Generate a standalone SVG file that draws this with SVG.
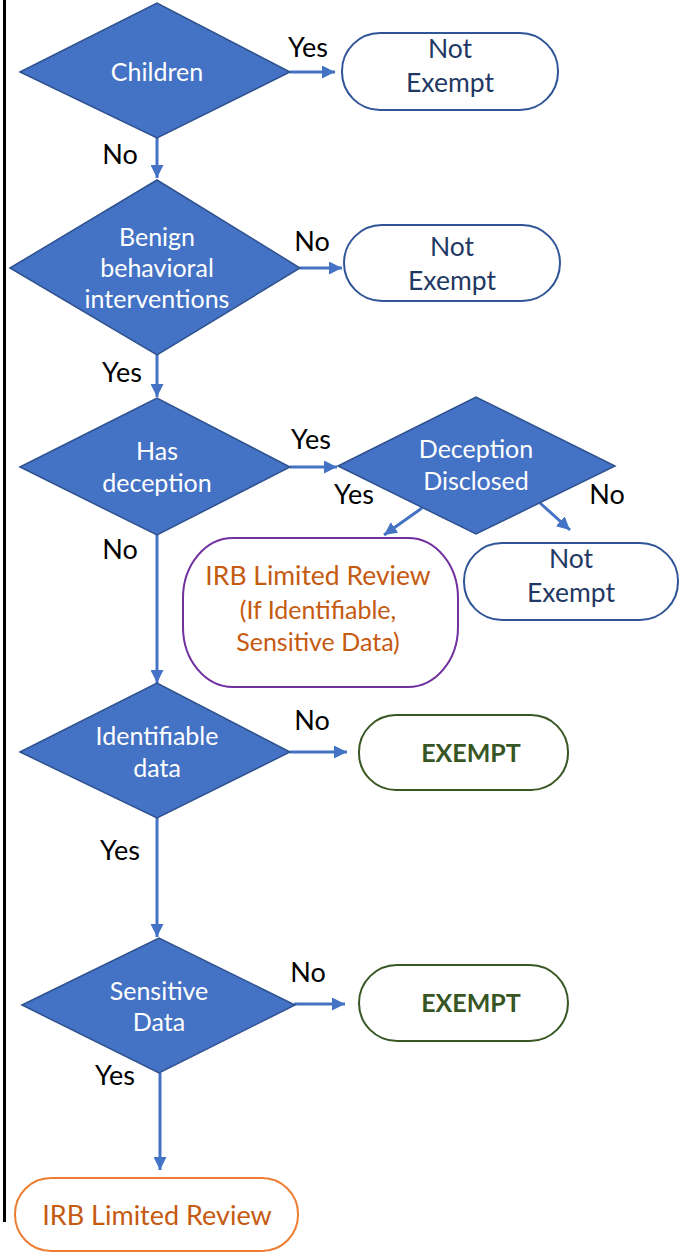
<svg xmlns="http://www.w3.org/2000/svg" width="680" height="1253" viewBox="0 0 680 1253">
<style>
text{font-family:Lato,"Open Sans","Liberation Sans",sans-serif;text-anchor:middle}
.dia{fill:#4472C4;stroke:#2F528F;stroke-width:1.5}
.dt{fill:#ffffff;font-size:25px}
.lbl{fill:#000000;font-size:27px}
.ne{fill:#ffffff;stroke:#2F5597;stroke-width:2}
.net{fill:#1F3864;font-size:26.5px}
.ex{fill:#ffffff;stroke:#385723;stroke-width:2}
.ext{fill:#375623;font-size:25px;font-weight:bold}
.irb{fill:#C55A11}
.con{stroke:#4472C4;stroke-width:3;fill:none;marker-end:url(#ah)}
</style>
<defs>
<marker id="ah" viewBox="0 0 10 10" refX="10" refY="5" markerWidth="13" markerHeight="13" markerUnits="userSpaceOnUse" orient="auto">
<path d="M0,0 L10,5 L0,10 z" fill="#4472C4"/>
</marker>
</defs>
<line x1="4.5" y1="0" x2="4.5" y2="1222" stroke="#000" stroke-width="3"/>
<g id="connectors">
<line class="con" x1="290" y1="72" x2="335" y2="72"/>
<line class="con" x1="157" y1="138" x2="157" y2="178"/>
<line class="con" x1="300" y1="268" x2="342" y2="268"/>
<line class="con" x1="157" y1="355" x2="157" y2="397"/>
<line class="con" x1="290" y1="467" x2="337" y2="467"/>
<line class="con" x1="422" y1="508" x2="384" y2="535"/>
<line class="con" x1="540" y1="503" x2="570" y2="530"/>
<line class="con" x1="157" y1="535" x2="157" y2="683"/>
<line class="con" x1="290" y1="752" x2="347" y2="752"/>
<line class="con" x1="157" y1="818" x2="157" y2="937"/>
<line class="con" x1="294" y1="1004" x2="345" y2="1004"/>
<line class="con" x1="160" y1="1073" x2="160" y2="1170"/>
<text class="lbl" x="308" y="57">Yes</text>
<text class="lbl" x="120" y="164">No</text>
<text class="lbl" x="312" y="251">No</text>
<text class="lbl" x="122" y="382">Yes</text>
<text class="lbl" x="311" y="449">Yes</text>
<text class="lbl" x="120" y="559">No</text>
<text class="lbl" x="354" y="504">Yes</text>
<text class="lbl" x="607" y="504">No</text>
<text class="lbl" x="312" y="730">No</text>
<text class="lbl" x="120" y="860">Yes</text>
<text class="lbl" x="308" y="982">No</text>
<text class="lbl" x="115" y="1085">Yes</text>
</g>
<g id="d1">
<polygon class="dia" points="20,72 157,3 290,72 157,138"/>
<text class="dt" x="157" y="81">Children</text>
</g>
<g id="ne1">
<rect class="ne" x="342" y="33" width="216" height="77" rx="38" ry="38"/>
<text class="net" x="450" y="58">Not</text>
<text class="net" x="450" y="92">Exempt</text>
</g>
<g id="d2">
<polygon class="dia" points="10,268 157,180 300,268 157,355"/>
<text class="dt" x="157" y="246">Benign</text>
<text class="dt" x="157" y="277">behavioral</text>
<text class="dt" x="157" y="308">interventions</text>
</g>
<g id="ne2">
<rect class="ne" x="344" y="225" width="216" height="76" rx="38" ry="38"/>
<text class="net" x="452" y="256">Not</text>
<text class="net" x="452" y="290">Exempt</text>
</g>
<g id="d3">
<polygon class="dia" points="20,467 157,398 290,467 157,535"/>
<text class="dt" x="157" y="460">Has</text>
<text class="dt" x="157" y="492">deception</text>
</g>
<g id="d4">
<polygon class="dia" points="338,466 476,397 615,466 476,534"/>
<text class="dt" x="476" y="458">Deception</text>
<text class="dt" x="476" y="490">Disclosed</text>
</g>
<g id="irb1">
<rect x="183" y="538" width="275" height="149" rx="50" ry="60" fill="#ffffff" stroke="#7030A0" stroke-width="2"/>
<text class="irb" x="318" y="585" font-size="26.5">IRB Limited Review</text>
<text class="irb" x="318" y="619" font-size="25">(If Identifiable,</text>
<text class="irb" x="318" y="651" font-size="25">Sensitive Data)</text>
</g>
<g id="ne3">
<rect class="ne" x="464" y="543" width="214" height="77" rx="38" ry="38"/>
<text class="net" x="571" y="568">Not</text>
<text class="net" x="571" y="602">Exempt</text>
</g>
<g id="d5">
<polygon class="dia" points="20,752 157,683 290,752 157,818"/>
<text class="dt" x="157" y="745">Identifiable</text>
<text class="dt" x="157" y="777">data</text>
</g>
<g id="ex1">
<rect class="ex" x="359" y="715" width="209" height="75" rx="37" ry="37"/>
<text class="ext" x="471" y="762">EXEMPT</text>
</g>
<g id="d6">
<polygon class="dia" points="22,1005 159,938 295,1005 159,1073"/>
<text class="dt" x="159" y="1000">Sensitive</text>
<text class="dt" x="159" y="1031">Data</text>
</g>
<g id="ex2">
<rect class="ex" x="359" y="965" width="209" height="76" rx="38" ry="38"/>
<text class="ext" x="471" y="1012">EXEMPT</text>
</g>
<g id="irb2">
<rect x="15" y="1178" width="283" height="73" rx="36" ry="36" fill="#ffffff" stroke="#ED7D31" stroke-width="2"/>
<text class="irb" x="157" y="1225" font-size="27">IRB Limited Review</text>
</g>
</svg>
